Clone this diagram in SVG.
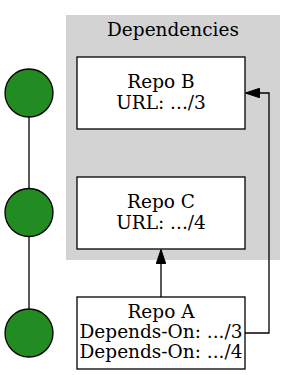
<svg xmlns="http://www.w3.org/2000/svg" width="296" height="375" viewBox="0 0 296 375">
<style>
text{font-family:"DejaVu Serif","Liberation Serif",serif;font-size:18.5px;fill:#000;text-anchor:middle}
.box{fill:#fff;stroke:#000;stroke-width:1.3}
.dot{fill:#228b22;stroke:#000;stroke-width:1.3}
.edge{fill:none;stroke:#000;stroke-width:1.3}
</style>
<defs>
<marker id="arr" viewBox="0 0 14 10" refX="14" refY="5" markerWidth="14" markerHeight="10" markerUnits="userSpaceOnUse" orient="auto">
<path d="M0,0.3 L14,5 L0,9.7 Z" fill="#000" stroke="#000" stroke-width="1"/>
</marker>
</defs>
<g id="cluster">
<rect x="66" y="15" width="214" height="245" fill="#d3d3d3"/>
<text x="173" y="36">Dependencies</text>
</g>
<g id="connectors">
<line class="edge" x1="29" y1="117" x2="29" y2="188.5"/>
<line class="edge" x1="29" y1="237" x2="29" y2="309"/>
<line class="edge" x1="161" y1="297" x2="161" y2="249.5" marker-end="url(#arr)"/>
<polyline class="edge" points="245,333 269,333 269,93 245.5,93" marker-end="url(#arr)"/>
</g>
<g id="dot1"><circle class="dot" cx="29" cy="93" r="24"/></g>
<g id="dot2"><circle class="dot" cx="29" cy="212.5" r="24"/></g>
<g id="dot3"><circle class="dot" cx="29" cy="333" r="24"/></g>
<g id="repoB">
<rect class="box" x="77" y="57" width="168" height="72"/>
<text x="161" y="88">Repo B</text>
<text x="161" y="109">URL: .../3</text>
</g>
<g id="repoC">
<rect class="box" x="77" y="177" width="168" height="72"/>
<text x="161" y="208">Repo C</text>
<text x="161" y="228.5">URL: .../4</text>
</g>
<g id="repoA">
<rect class="box" x="77" y="297" width="168" height="72"/>
<text x="161" y="318">Repo A</text>
<text x="161" y="338">Depends-On: .../3</text>
<text x="161" y="358">Depends-On: .../4</text>
</g>
</svg>
